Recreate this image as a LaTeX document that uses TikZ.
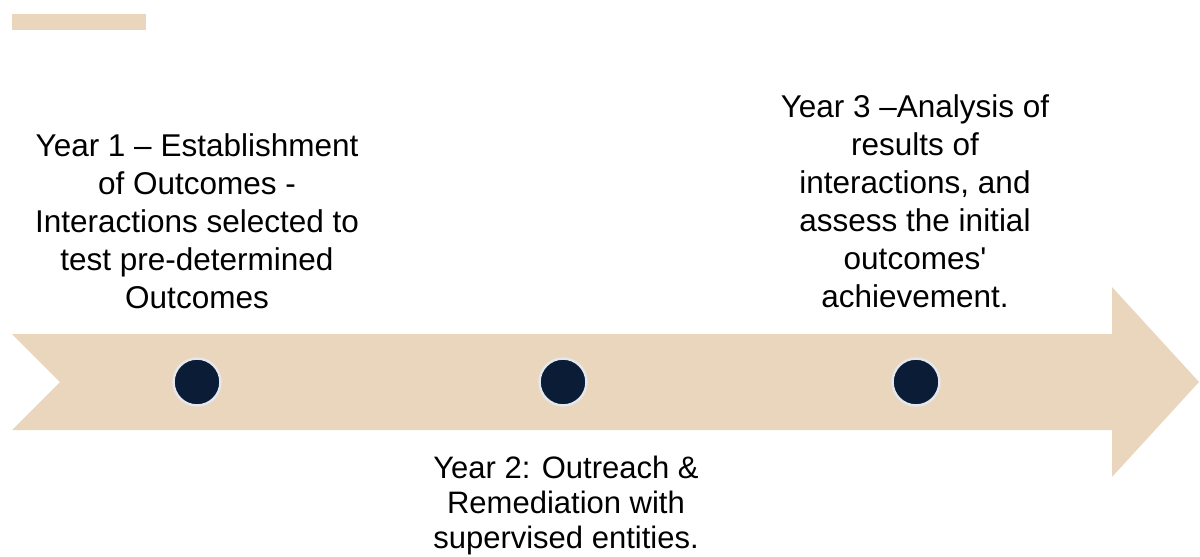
\documentclass[tikz,border=0pt]{standalone}
\usepackage{fontspec}
\setmainfont{Liberation Sans}
\definecolor{sand}{RGB}{234,213,189}
\definecolor{navy}{RGB}{11,28,54}
\definecolor{rim}{RGB}{229,231,235}
\begin{document}
\begin{tikzpicture}[x=1pt,y=-1pt,
  milestone/.style={circle,fill=navy,draw=rim,line width=2.5pt,minimum size=47pt,inner sep=0pt},
  caption/.style={align=center,inner sep=0pt,anchor=north,font=\fontsize{31.5}{38}\selectfont}]
  \useasboundingbox (0,0) rectangle (1200,557);
  % small accent bar
  \fill[sand] (12,14) rectangle (146,30);
  % timeline arrow with notched tail
  \fill[sand] (12,334) -- (1112,334) -- (1112,287) -- (1199,382)
    -- (1112,477) -- (1112,430) -- (12,430) -- (60,382) -- cycle;
  % milestones
  \node[milestone] (m1) at (197,382) {};
  \node[milestone] (m2) at (563,382) {};
  \node[milestone] (m3) at (916,382) {};
  % phase descriptions
  \node[caption] (t1) at (197,133.5) {Year 1 – Establishment\\of Outcomes -\\Interactions selected to\\test pre-determined\\Outcomes};
  \node[caption,font=\fontsize{31}{35}\selectfont] (t2) at (566,456) {Year 2: Outreach \&\\Remediation with\\supervised entities.};
  \node[caption] (t3) at (915,94) {Year 3 –Analysis of\\results of\\interactions, and\\assess the initial\\outcomes\textquotesingle\\achievement.};
\end{tikzpicture}
\end{document}
